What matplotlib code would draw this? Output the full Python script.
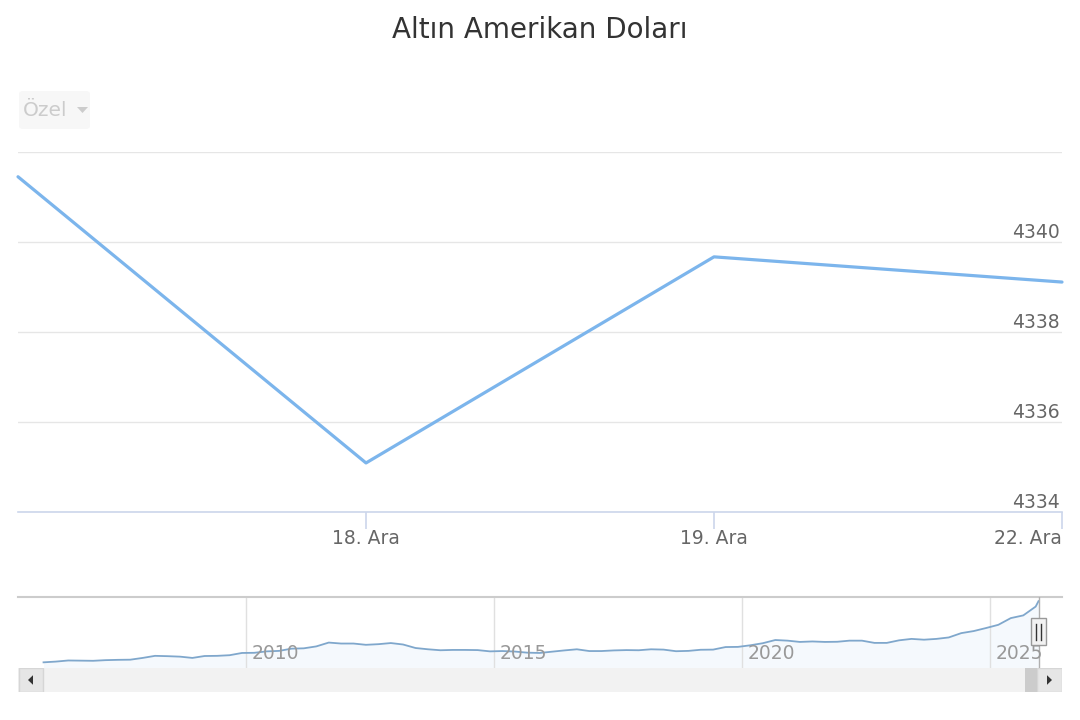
import pandas as pd
import matplotlib.pyplot as plt
import matplotlib.dates as mdates
from matplotlib.patches import Rectangle, FancyBboxPatch, Polygon

# main series: last four trading days
day_labels = ['17. Ara', '18. Ara', '19. Ara', '22. Ara']
day_values = [4341.45, 4335.09, 4339.67, 4339.11]
y_ticks = [4334, 4336, 4338, 4340, 4342]

# navigator series: quarterly gold price (USD), Dec 2005 .. Dec 2025
nav_values = [
    515, 560, 630, 620, 610,
    650, 670, 680, 790,
    920, 900, 870, 790,
    910, 920, 960, 1100,
    1110, 1200, 1230, 1370,
    1390, 1510, 1750, 1690,
    1690, 1610, 1650, 1720,
    1630, 1410, 1330, 1270,
    1290, 1290, 1280, 1200,
    1220, 1190, 1120, 1100,
    1180, 1260, 1330, 1220,
    1220, 1260, 1280, 1270,
    1330, 1310, 1210, 1230,
    1300, 1310, 1470, 1480,
    1580, 1710, 1910, 1870,
    1790, 1820, 1790, 1800,
    1870, 1870, 1730, 1730,
    1890, 1980, 1930, 1980,
    2070, 2340, 2470, 2660,
    2860, 3280, 3450, 4000, 4340,
]
nav_dates = pd.date_range('2005-12-01', periods=len(nav_values) - 1, freq='QS-DEC').tolist()
nav_dates.append(pd.Timestamp('2025-12-22'))
nav_years = [2010, 2015, 2020, 2025]

W, H = 1080, 720
fig = plt.figure(figsize=(W / 100, H / 100), dpi=100)
plt.rcParams['font.family'] = ['DejaVu Sans']


def box(x0, y0, x1, y1):
    # pixel box (top-left origin) -> figure fraction
    return [x0 / W, 1 - y1 / H, (x1 - x0) / W, (y1 - y0) / H]


fig.text(0.5, 1 - 30 / H, 'Altın Amerikan Doları', ha='center', va='center',
         fontsize=20, color='#333333')

# "Özel" button
fig.patches.append(FancyBboxPatch((19 / W, 1 - 129 / H), 71 / W, 38 / H,
                                  boxstyle='round,pad=0,rounding_size=0.004',
                                  transform=fig.transFigure, fc='#f7f7f7', ec='none'))
fig.text(23 / W, 1 - 110 / H, 'Özel', ha='left', va='center', fontsize=14.5, color='#cccccc')
fig.patches.append(Polygon([(77 / W, 1 - 107 / H), (88 / W, 1 - 107 / H), (82.5 / W, 1 - 113 / H)],
                           closed=True, transform=fig.transFigure, fc='#cccccc', ec='none'))

# main chart
ax = fig.add_axes(box(18, 152, 1062, 512))
x = list(range(len(day_values)))
ax.plot(x, day_values, color='#7cb5ec', lw=2.3, clip_on=False, solid_capstyle='round')
ax.set_xlim(0, len(day_values) - 1)
ax.set_ylim(y_ticks[0], y_ticks[-1])
for s in ax.spines.values():
    s.set_visible(False)
ax.set_yticks(y_ticks)
ax.tick_params(axis='y', length=0, labelleft=False)
ax.grid(axis='y', color='#e6e6e6', lw=1)
ax.axhline(y_ticks[0], color='#ccd6eb', lw=1.2, clip_on=False)
for v in y_ticks[:-1]:
    ax.text(0.998, v, str(v), transform=ax.get_yaxis_transform(), ha='right', va='bottom',
            fontsize=13.5, color='#666666')
ax.set_xticks(x[1:])
ax.set_xticklabels(day_labels[1:], fontsize=13.5, color='#666666')
ax.tick_params(axis='x', length=12, color='#ccd6eb', width=1.2, pad=0.5)
ax.get_xticklabels()[-1].set_ha('right')
ax.set_axisbelow(True)

# navigator
nav = fig.add_axes(box(18, 597, 1062, 668))
nav.plot(nav_dates, nav_values, color='#7fa7cc', lw=1.3)
nav.fill_between(nav_dates, nav_values, 0, color='#7cb5ec', alpha=0.07, lw=0)
nav.set_xlim(pd.Timestamp('2005-05-27'), pd.Timestamp('2026-06-13'))
nav.set_ylim(160, 4600)
for s in nav.spines.values():
    s.set_visible(False)
nav.axhline(4600, color='#cccccc', lw=1.5, clip_on=False)
nav.set_yticks([])
nav.set_xticks([pd.Timestamp(f'{yr}-01-01') for yr in nav_years])
nav.set_xticklabels([])
nav.tick_params(axis='x', length=0)
nav.grid(axis='x', color='#e0e0e0', lw=1)
for yr in nav_years:
    nav.text(mdates.date2num(pd.Timestamp(f'{yr}-01-01')) + 40, 0.21, str(yr),
             transform=nav.get_xaxis_transform(), ha='left', va='center',
             fontsize=13.5, color='#999999')
end = nav_dates[-1]
nav.axvline(end, color='#b0b0b0', lw=1)
hx = mdates.date2num(end)
nav.add_patch(Rectangle((hx - 55, 0.32), 110, 0.38, transform=nav.get_xaxis_transform(),
                        fc='#f2f2f2', ec='#999999', lw=1, clip_on=False, zorder=5))
for dx in (-18, 18):
    nav.plot([hx + dx, hx + dx], [0.40, 0.62], transform=nav.get_xaxis_transform(),
             color='#333333', lw=1, zorder=6)

# scrollbar
sb = fig.add_axes(box(18, 668, 1062, 692))
sb.set_xlim(18, 1062)
sb.set_ylim(0, 1)
sb.axis('off')
sb.add_patch(Rectangle((18, 0), 1044, 1, fc='#f2f2f2', ec='none'))
sb.add_patch(Rectangle((18.5, 0.02), 24.5, 0.96, fc='#e6e6e6', ec='#d6d6d6', lw=1))
sb.add_patch(Rectangle((1037, 0.02), 24.5, 0.96, fc='#e6e6e6', ec='#d6d6d6', lw=1))
sb.add_patch(Rectangle((1025, 0), 12, 1, fc='#cccccc', ec='none'))
sb.add_patch(Polygon([(33, 0.3), (33, 0.7), (28, 0.5)], closed=True, fc='#333333', ec='none'))
sb.add_patch(Polygon([(1047, 0.3), (1047, 0.7), (1052, 0.5)], closed=True, fc='#333333', ec='none'))

fig.savefig('out.png', dpi=100)
